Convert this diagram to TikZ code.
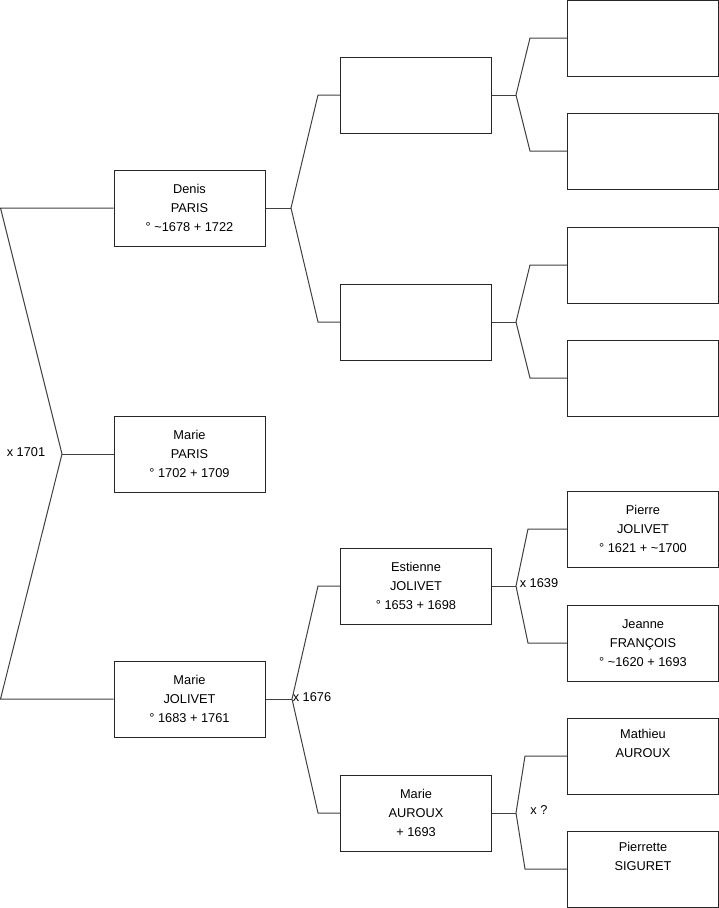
\documentclass[tikz,border=0pt]{standalone}
\usepackage{fontspec}
\setmainfont{Liberation Sans}
\usepackage{tikz}
\usetikzlibrary{positioning,calc}

\begin{document}
\begin{tikzpicture}[
  x=1pt, y=-1pt,
  every node/.style={font=\fontsize{12.8}{19}\selectfont},
  person/.style={draw=black!85, line width=1pt, minimum width=151pt,
                 minimum height=76pt, inner sep=0pt, align=center},
  link/.style={draw=black!75, line width=1pt},
  union/.style={inner sep=0pt},
]
\useasboundingbox (0,0) rectangle (719,908);

%% Generation 1
\node[person] (denis)   at (189.5,208) {Denis\\PARIS\\° \textasciitilde1678 + 1722};
\node[person] (mparis)  at (189.5,454) {Marie\\PARIS\\° 1702 + 1709};
\node[person] (mjoliv)  at (189.5,699) {Marie\\JOLIVET\\° 1683 + 1761};

%% Generation 2
\node[person] (dfather) at (416,95)  {};
\node[person] (dmother) at (416,322) {};
\node[person] (estien)  at (416,586) {Estienne\\JOLIVET\\° 1653 + 1698};
\node[person] (mauroux) at (416,813) {Marie\\AUROUX\\+ 1693};

%% Generation 3 (Paris side, unknown)
\foreach \i/\yy in {1/38,2/151,3/265,4/378} {
  \node[person] (g\i) at (643,\yy) {};
}

%% Generation 3 (Jolivet side)
\node[person] (pierre)  at (643,529) {Pierre\\JOLIVET\\° 1621 + \textasciitilde1700};
\node[person] (jeanne)  at (643,643) {Jeanne\\FRANÇOIS\\° \textasciitilde1620 + 1693};
\node[person] (mathieu) at (643,756) {Mathieu\\AUROUX\\\strut};
\node[person] (pierret) at (643,869) {Pierrette\\SIGURET\\\strut};

%% Fork points
\coordinate (f0) at (62,454);
\coordinate (f1) at (291,208);
\coordinate (f2) at (292,699);
\coordinate (f3) at (516,95);
\coordinate (f4) at (516,322);
\coordinate (f5) at (516,586);
\coordinate (f6) at (516,813);

%% Connectors
\draw[link] (denis.west) -- (0.5,208) -- (f0) -- (0.5,699) -- (mjoliv.west);
\draw[link] (f0) -- (mparis.west);
\draw[link] (denis.east) -- (f1);
\draw[link] (dfather.west) -- ++(-22,0) -- (f1) -- ($(dmother.west)+(-22,0)$) -- (dmother.west);
\draw[link] (mjoliv.east) -- (f2);
\draw[link] (estien.west) -- ++(-22,0) -- (f2) -- ($(mauroux.west)+(-22,0)$) -- (mauroux.west);
\draw[link] (dfather.east) -- (f3);
\draw[link] (g1.west) -- ++(-37,0) -- (f3) -- ($(g2.west)+(-37,0)$) -- (g2.west);
\draw[link] (dmother.east) -- (f4);
\draw[link] (g3.west) -- ++(-37,0) -- (f4) -- ($(g4.west)+(-37,0)$) -- (g4.west);
\draw[link] (estien.east) -- (f5);
\draw[link] (pierre.west) -- ++(-39,0) -- (f5) -- ($(jeanne.west)+(-39,0)$) -- (jeanne.west);
\draw[link] (mauroux.east) -- (f6);
\draw[link] (mathieu.west) -- ++(-42,0) -- (f6) -- ($(pierret.west)+(-42,0)$) -- (pierret.west);

%% Marriage labels
\node[union] (m1) at (26,452)  {x 1701};
\node[union] (m2) at (312,697) {x 1676};
\node[union] (m3) at (539,583) {x 1639};
\node[union] (m4) at (539,810) {x ?};

\end{tikzpicture}
\end{document}
